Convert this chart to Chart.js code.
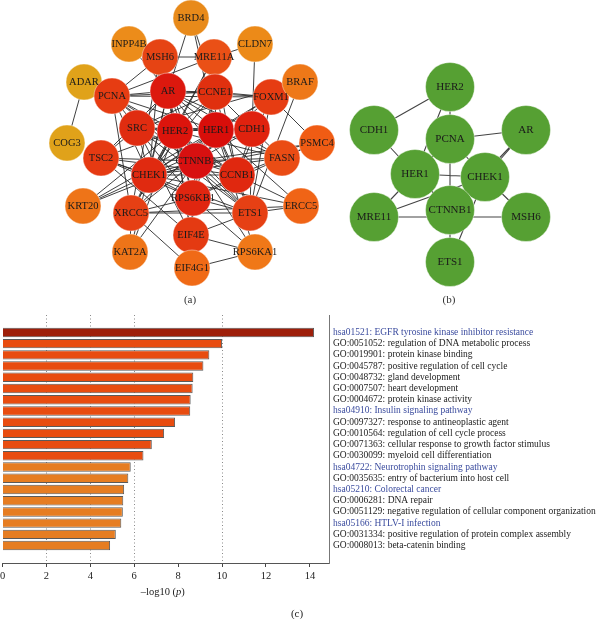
<!DOCTYPE html>
<html>
<head>
<meta charset="utf-8">
<script src="https://cdn.jsdelivr.net/npm/chart.js@4.4.1/dist/chart.umd.min.js"></script>
<style>
  body { margin: 0; background: #fff; width: 600px; height: 619px; position: relative; overflow: hidden; }
  canvas { position: absolute; left: 0; }
  #net_chart { top: 0; }
  #term_chart { top: 310px; }
</style>
</head>
<body>
<canvas id="net_chart" width="600" height="310"></canvas>
<canvas id="term_chart" width="600" height="309"></canvas>
<script>
// ------------------------------------------------------------ DATA
// ---- network (a): PPI network, nodes coloured by degree
const netANames  = ['BRD4','INPP4B','CLDN7','MSH6','MRE11A','ADAR','PCNA','AR','CCNE1','FOXM1','BRAF',
                    'SRC','HER2','HER1','CDH1','COG3','TSC2','CTNNB1','CHEK1','CCNB1','FASN','PSMC4',
                    'RPS6KB1','KRT20','XRCC5','ETS1','ERCC5','EIF4E','KAT2A','RPS6KA1','EIF4G1'];
const netALayoutX = [191,129,255,160,214,84,112,168,215,271,300,
                     137,175,216,252,67,101,196,149,237,282,317,
                     193,83,131,250,301,191,130,255,192];
const netALayoutY = [18,44,44,57,57,82,96,91,92,97,82,
                     128,131,130,129,143,158,161,175,175,158,143,
                     198,206,213,213,206,235,252,252,268];
const netAColors = ['#e88a1a','#ec8c1a','#ec8a18','#e64414','#ea5016','#e0a21a','#e63c12','#dc180e','#e0300f','#e63c12','#ee7818',
                    '#e02c10','#dc140c','#d80e0a','#e0220e','#e0a21a','#e63a12','#d81010','#e02a10','#e0280f','#ea4c14','#f05c14',
                    '#e02610','#ee7418','#e64014','#e64014','#f06416','#e43a12','#ee7418','#f07818','#f06a16'];
const netAEdges = [
  'HER1-HER2','HER1-CTNNB1','HER1-AR','HER1-SRC','HER1-CCNE1','HER1-CDH1','HER1-CHEK1','HER1-CCNB1','HER1-RPS6KB1',
  'HER2-CTNNB1','HER2-AR','HER2-SRC','HER2-CCNE1','HER2-CDH1','HER2-CHEK1','HER2-CCNB1','HER2-RPS6KB1',
  'CTNNB1-AR','CTNNB1-SRC','CTNNB1-CCNE1','CTNNB1-CDH1','CTNNB1-CHEK1','CTNNB1-CCNB1','CTNNB1-RPS6KB1',
  'AR-SRC','AR-CCNE1','AR-CDH1','AR-CHEK1','AR-CCNB1','AR-RPS6KB1',
  'SRC-CCNE1','SRC-CDH1','SRC-CHEK1','SRC-CCNB1','SRC-RPS6KB1',
  'CCNE1-CDH1','CCNE1-CHEK1','CCNE1-CCNB1','CCNE1-RPS6KB1',
  'CDH1-CHEK1','CDH1-CCNB1','CHEK1-CCNB1','CHEK1-RPS6KB1','CCNB1-RPS6KB1',
  'PCNA-AR','PCNA-HER2','PCNA-SRC','PCNA-CHEK1','PCNA-CCNB1','PCNA-CCNE1','PCNA-MSH6','PCNA-MRE11A','PCNA-XRCC5',
  'PCNA-CTNNB1','PCNA-HER1','PCNA-FOXM1','PCNA-ETS1',
  'MSH6-MRE11A','MSH6-CHEK1','MSH6-CTNNB1','MSH6-AR','MSH6-HER2','MSH6-XRCC5',
  'MRE11A-CHEK1','MRE11A-HER1','MRE11A-XRCC5','MRE11A-CCNB1',
  'BRD4-AR','BRD4-CCNE1','BRD4-HER1','INPP4B-AR','CLDN7-CDH1','CLDN7-MRE11A',
  'FOXM1-CCNB1','FOXM1-CCNE1','FOXM1-CHEK1','FOXM1-CTNNB1','FOXM1-HER1','FOXM1-PSMC4','FOXM1-ETS1','FOXM1-AR',
  'BRAF-SRC','BRAF-ETS1','ADAR-COG3',
  'TSC2-RPS6KB1','TSC2-HER2','TSC2-AR','TSC2-CTNNB1','TSC2-CHEK1','TSC2-SRC','TSC2-EIF4E','TSC2-CCNB1','TSC2-ETS1',
  'KRT20-HER1','KRT20-CTNNB1','KRT20-CHEK1','KRT20-HER2',
  'XRCC5-CHEK1','XRCC5-CTNNB1','XRCC5-HER1','XRCC5-HER2','XRCC5-ERCC5','XRCC5-RPS6KB1','XRCC5-ETS1',
  'KAT2A-CTNNB1','KAT2A-AR','KAT2A-XRCC5','KAT2A-HER2',
  'EIF4E-RPS6KB1','EIF4E-EIF4G1','EIF4E-RPS6KA1','EIF4E-HER2','EIF4E-CTNNB1','EIF4E-ETS1','EIF4E-SRC','EIF4E-AR',
  'EIF4G1-RPS6KA1','EIF4G1-RPS6KB1','EIF4G1-XRCC5',
  'RPS6KA1-RPS6KB1','RPS6KA1-HER1','RPS6KA1-CTNNB1',
  'ETS1-HER1','ETS1-HER2','ETS1-CTNNB1','ETS1-CCNB1','ETS1-ERCC5','ETS1-RPS6KB1','ETS1-CDH1','ETS1-SRC',
  'ERCC5-CHEK1','ERCC5-HER1','ERCC5-CCNB1',
  'FASN-HER1','FASN-HER2','FASN-AR','FASN-PSMC4','FASN-CDH1','FASN-CTNNB1','FASN-CHEK1','FASN-RPS6KB1',
  'PSMC4-CTNNB1','PSMC4-CCNB1','PSMC4-CHEK1'
];

// ---- network (b): hub genes
const netBNames   = ['HER2','CDH1','PCNA','AR','HER1','CHEK1','CTNNB1','MRE11','MSH6','ETS1'];
const netBLayoutX = [450,374,450,526,415,485,450,374,526,450];
const netBLayoutY = [87,130,139,130,174,177,210,217,217,262];
const netBEdges = [
  'HER2-CDH1','HER2-PCNA','HER2-HER1','PCNA-HER1','PCNA-CHEK1','PCNA-CTNNB1','AR-PCNA','AR-CHEK1','AR-CTNNB1',
  'CDH1-HER1','HER1-CHEK1','HER1-CTNNB1','HER1-MRE11','CHEK1-CTNNB1','CHEK1-MSH6','CHEK1-ETS1',
  'MRE11-MSH6','MRE11-CHEK1','CTNNB1-ETS1'
];

// ---- (c) enrichment terms, -log10(p)
const termLabels = [
  'hsa01521: EGFR tyrosine kinase inhibitor resistance',
  'GO:0051052: regulation of DNA metabolic process',
  'GO:0019901: protein kinase binding',
  'GO:0045787: positive regulation of cell cycle',
  'GO:0048732: gland development',
  'GO:0007507: heart development',
  'GO:0004672: protein kinase activity',
  'hsa04910: Insulin signaling pathway',
  'GO:0097327: response to antineoplastic agent',
  'GO:0010564: regulation of cell cycle process',
  'GO:0071363: cellular response to growth factor stimulus',
  'GO:0030099: myeloid cell differentiation',
  'hsa04722: Neurotrophin signaling pathway',
  'GO:0035635: entry of bacterium into host cell',
  'hsa05210: Colorectal cancer',
  'GO:0006281: DNA repair',
  'GO:0051129: negative regulation of cellular component organization',
  'hsa05166: HTLV-I infection',
  'GO:0031334: positive regulation of protein complex assembly',
  'GO:0008013: beta-catenin binding'
];
const termLogP  = [14.19, 10.0, 9.42, 9.15, 8.69, 8.66, 8.57, 8.55, 7.86, 7.36,
                   6.8, 6.42, 5.84, 5.73, 5.54, 5.5, 5.48, 5.41, 5.16, 4.9];
const xTicks    = [0, 2, 4, 6, 8, 10, 12, 14];
const xGridAt   = [2, 4, 6, 10];

// ------------------------------------------------------------ HELPERS
const SERIF = '"Liberation Serif", "DejaVu Serif", serif';

function nodePoints(names, xs, ys) {
    return names.map((n, i) => ({ x: xs[i], y: ys[i], name: n }));
}

function edgePoints(edges, names, xs, ys) {
    let pts = [];
    edges.forEach(e => {
        const [a, b] = e.split('-');
        const ia = names.indexOf(a), ib = names.indexOf(b);
        pts.push({ x: xs[ia], y: ys[ia] }, { x: xs[ib], y: ys[ib] }, { x: NaN, y: NaN });
    });
    return pts;
}

// ---- draws node names + panel captions
const netLabels = {
    id: 'netLabels',
    afterDatasetsDraw(chart) {
        const ctx = chart.ctx;
        ctx.save();
        ctx.textAlign = 'center';
        ctx.textBaseline = 'middle';
        ctx.fillStyle = '#1a1a1a';
        chart.data.datasets.forEach((ds, di) => {
            if (!ds.isNode) return;
            ctx.font = ds.labelSize + 'px ' + SERIF;
            chart.getDatasetMeta(di).data.forEach((pt, i) => {
                ctx.fillText(ds.data[i].name, pt.x, pt.y + 0.5);
            });
        });
        const sx = chart.scales.x, sy = chart.scales.y;
        ctx.fillStyle = '#333';
        ctx.font = '11px ' + SERIF;
        ctx.fillText('(a)', sx.getPixelForValue(190), sy.getPixelForValue(300));
        ctx.fillText('(b)', sx.getPixelForValue(449), sy.getPixelForValue(300));
        ctx.restore();
    }
};

const termCaptions = {
    id: 'termCaptions',
    afterDraw(chart) {
        const ctx = chart.ctx, area = chart.chartArea;
        ctx.save();
        ctx.fillStyle = '#222';
        ctx.textBaseline = 'middle';
        // axis title with italic p
        const parts = [['\u2013log10 (', 'normal'], ['p', 'italic'], [')', 'normal']];
        let w = 0;
        parts.forEach(p => { ctx.font = p[1] + ' 10.5px ' + SERIF; w += ctx.measureText(p[0]).width; });
        let x = (area.left + area.right) / 2 - w / 2 - 3;
        const y = area.bottom + 29;
        ctx.textAlign = 'left';
        parts.forEach(p => {
            ctx.font = p[1] + ' 10.5px ' + SERIF;
            ctx.fillText(p[0], x, y);
            x += ctx.measureText(p[0]).width;
        });
        ctx.textAlign = 'center';
        ctx.font = '11px ' + SERIF;
        ctx.fillText('(c)', 297, area.bottom + 51);
        ctx.restore();
    }
};

// ------------------------------------------------------------ NETWORKS
function drawNetworks() {
    const ctx = document.getElementById('net_chart').getContext('2d');
    new Chart(ctx, {
        type: 'scatter',
        data: {
            datasets: [
                {
                    isNode: true, labelSize: 10.5, order: 0,
                    data: nodePoints(netANames, netALayoutX, netALayoutY),
                    pointRadius: 18,
                    pointBackgroundColor: netAColors,
                    pointBorderColor: 'rgba(255,255,255,0.7)',
                    pointBorderWidth: 0.6,
                    clip: false
                },
                {
                    isNode: true, labelSize: 11, order: 0,
                    data: nodePoints(netBNames, netBLayoutX, netBLayoutY),
                    pointRadius: 24.5,
                    pointBackgroundColor: '#56a033',
                    pointBorderColor: 'rgba(255,255,255,0.7)',
                    pointBorderWidth: 0.6,
                    clip: false
                },
                {
                    order: 1,
                    data: edgePoints(netAEdges, netANames, netALayoutX, netALayoutY),
                    showLine: true, pointRadius: 0,
                    borderColor: '#2a2a2a', borderWidth: 0.9, spanGaps: false, clip: false
                },
                {
                    order: 1,
                    data: edgePoints(netBEdges, netBNames, netBLayoutX, netBLayoutY),
                    showLine: true, pointRadius: 0,
                    borderColor: '#444', borderWidth: 1.1, spanGaps: false, clip: false
                }
            ]
        },
        options: {
            responsive: false,
            animation: false,
            events: [],
            layout: { padding: 0, autoPadding: false },
            plugins: { legend: { display: false }, tooltip: { enabled: false } },
            scales: {
                x: { type: 'linear', min: 0, max: 600, display: false },
                y: { type: 'linear', min: 0, max: 310, reverse: true, display: false }
            }
        },
        plugins: [netLabels]
    });
}

// ------------------------------------------------------------ BAR CHART (c)
function drawTerms() {
    const ctx = document.getElementById('term_chart').getContext('2d');
    const barColors = termLogP.map((v, i) => i === 0 ? '#9e1f0a' : (i < 12 ? '#e84c10' : '#e67d22'));
    new Chart(ctx, {
        type: 'bar',
        data: {
            datasets: [{
                data: termLogP.map((v, i) => ({ x: v, y: i })),
                backgroundColor: barColors,
                borderColor: '#5a5a5a',
                borderWidth: 1,
                barPercentage: 0.84,
                categoryPercentage: 1
            }]
        },
        options: {
            indexAxis: 'y',
            responsive: false,
            animation: false,
            events: [],
            layout: { padding: { top: 5, left: 2.5, right: 0, bottom: 0 }, autoPadding: false },
            plugins: { legend: { display: false }, tooltip: { enabled: false } },
            scales: {
                x: {
                    type: 'linear', min: 0, max: 14.87,
                    afterBuildTicks: s => { s.ticks = xTicks.map(v => ({ value: v })); },
                    afterFit: s => { s.height = 56; s.paddingLeft = 0; s.paddingRight = 0; },
                    grid: {
                        color: c => xGridAt.includes(c.tick && c.tick.value) ? '#8a8a8a' : 'rgba(0,0,0,0)',
                        tickColor: '#444',
                        tickLength: 4,
                        tickBorderDash: [1, 0],
                        lineWidth: 1
                    },
                    border: { display: true, color: '#555', width: 1, dash: [1, 2.5] },
                    ticks: { color: '#222', padding: 3, font: { family: SERIF, size: 10.5 } }
                },
                y: {
                    type: 'linear', position: 'right', reverse: true, min: -1, max: 20,
                    afterBuildTicks: s => { s.ticks = termLabels.map((t, i) => ({ value: i })); },
                    afterFit: s => { s.width = 271; s.paddingTop = 0; s.paddingBottom = 0; },
                    grid: { display: false, drawTicks: false },
                    border: { display: true, color: '#777', width: 1 },
                    ticks: {
                        autoSkip: false,
                        padding: 4,
                        callback: v => termLabels[v],
                        color: c => termLabels[c.tick.value].startsWith('hsa') ? '#3a4b9e' : '#222',
                        font: { family: SERIF, size: 9.5 }
                    }
                }
            }
        },
        plugins: [termCaptions]
    });
}

// ------------------------------------------------------------ DOCUMENT READY
(function () {
    drawNetworks();
    drawTerms();
})();
</script>
</body>
</html>
